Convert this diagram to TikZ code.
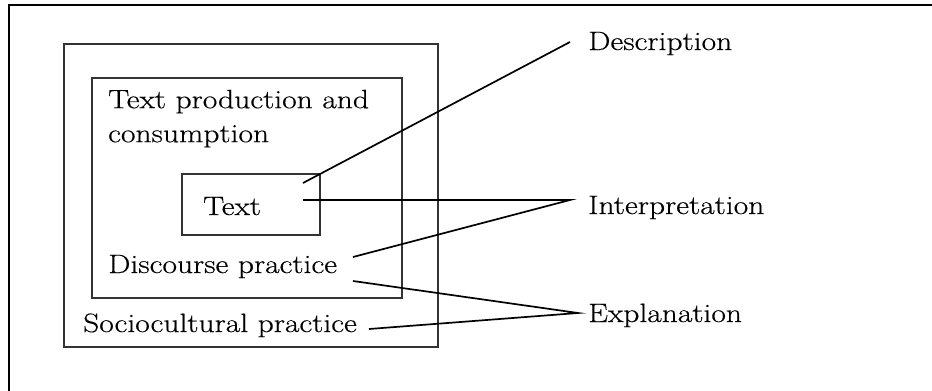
\documentclass[tikz,border=0pt]{standalone}
\usepackage{fontspec}
\setmainfont{Latin Modern Roman}[FakeStretch=1.19,FakeBold=0.4]
\begin{document}
\begin{tikzpicture}[x=1pt,y=-1pt,
  frame/.style={line width=2pt,black},
  boxline/.style={line width=1.5pt,draw=black!80},
  conn/.style={line width=1.7pt,black},
  lbl/.style={inner sep=0pt,anchor=base west,font=\fontsize{26.5}{34}\selectfont}]
\useasboundingbox (0,0) rectangle (932,391);
% outer frame (cut by the page on the right and bottom)
\draw[frame] (9,400) -- (9,5) -- (940,5);
% nested boxes
\node[boxline,draw,inner sep=0pt,minimum width=374pt,minimum height=303pt,anchor=north west] (socio) at (63,43) {};
\node[boxline,draw,inner sep=0pt,minimum width=310pt,minimum height=220pt,anchor=north west] (disc) at (91,77) {};
\node[boxline,draw,inner sep=0pt,minimum width=138pt,minimum height=61pt,anchor=north west] (textbox) at (181,173) {};
% texts
\node[lbl,anchor=north west,align=left] (tpc) at (108,89.6) {Text production and\\consumption};
\node[lbl] (txt) at (203,215) {Text};
\node[lbl] (dp) at (108,273) {Discourse practice};
\node[lbl] (sp) at (83,332) {Sociocultural practice};
\node[lbl] (desc) at (588,50) {Description};
\node[lbl] (interp) at (588,214) {Interpretation};
\node[lbl] (expl) at (588,322) {Explanation};
% connector end points
\coordinate (dA) at (303,183);
\coordinate (dB) at (570,42);
\coordinate (iA) at (303,200);
\coordinate (iB) at (353,257);
\coordinate (iC) at (570,200);
\coordinate (eA) at (353,281);
\coordinate (eB) at (369,329);
\coordinate (eC) at (578,313);
\draw[conn] (dA) -- (dB);
\draw[conn] (iA) -- (iC) -- (iB);
\draw[conn] (eA) -- (eC) -- (eB);
\end{tikzpicture}
\end{document}
